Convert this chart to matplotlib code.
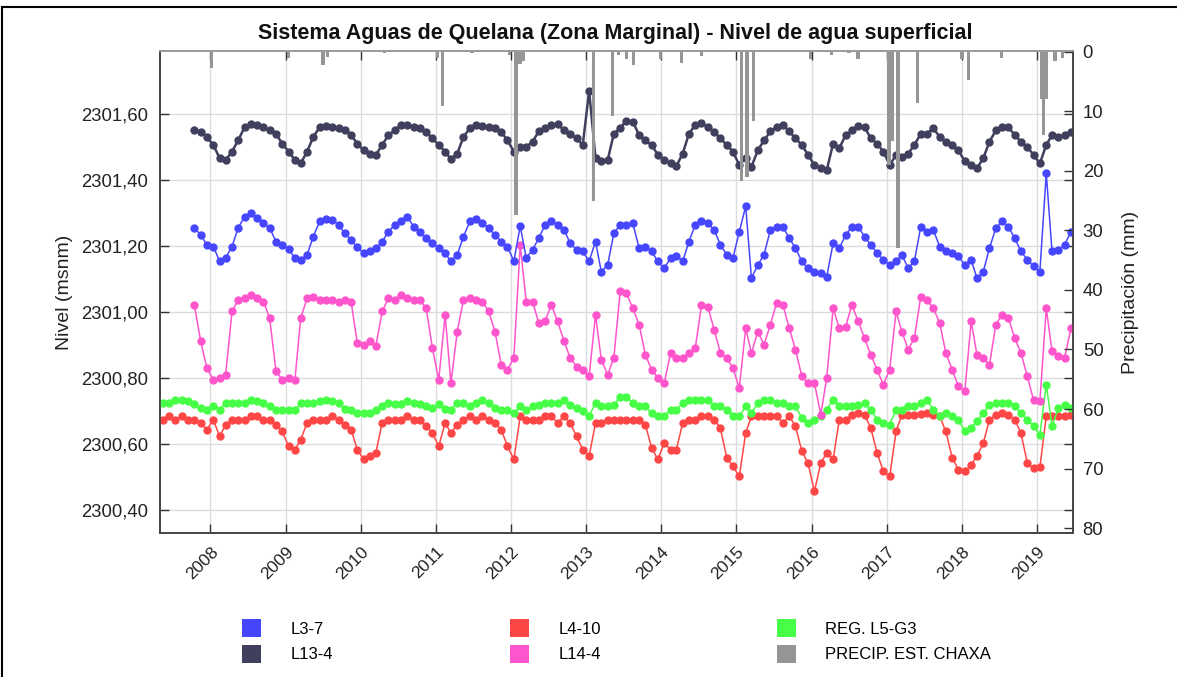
import matplotlib
matplotlib.use("Agg")
import matplotlib.pyplot as plt
import matplotlib.dates as mdates
from matplotlib.patches import Patch, Rectangle
from matplotlib.ticker import FuncFormatter
import pandas as pd

plt.rcParams['font.family'] = ['Liberation Sans', 'DejaVu Sans']

# monthly levels (msnm)
l13_4_start = '2007-10-01'
l13_4 = [
    2301.550, 2301.545, 2301.530,
    2301.506, 2301.466, 2301.460, 2301.486, 2301.520, 2301.560, 2301.570, 2301.567, 2301.560, 2301.550, 2301.540, 2301.510,
    2301.486, 2301.460, 2301.450, 2301.486, 2301.530, 2301.560, 2301.564, 2301.560, 2301.557, 2301.550, 2301.536, 2301.510,
    2301.490, 2301.480, 2301.476, 2301.506, 2301.536, 2301.550, 2301.567, 2301.567, 2301.560, 2301.557, 2301.545, 2301.526,
    2301.506, 2301.486, 2301.463, 2301.480, 2301.530, 2301.557, 2301.567, 2301.565, 2301.560, 2301.557, 2301.545, 2301.520,
    2301.486, 2301.500, 2301.500, 2301.516, 2301.547, 2301.557, 2301.567, 2301.570, 2301.550, 2301.540, 2301.526, 2301.506,
    2301.670, 2301.466, 2301.456, 2301.460, 2301.540, 2301.557, 2301.580, 2301.577, 2301.536, 2301.520, 2301.506, 2301.476,
    2301.460, 2301.450, 2301.442, 2301.480, 2301.540, 2301.567, 2301.572, 2301.560, 2301.545, 2301.526, 2301.506, 2301.486,
    2301.445, 2301.466, 2301.440, 2301.490, 2301.520, 2301.547, 2301.560, 2301.567, 2301.547, 2301.526, 2301.506, 2301.476,
    2301.445, 2301.435, 2301.430, 2301.510, 2301.496, 2301.536, 2301.550, 2301.565, 2301.560, 2301.526, 2301.510, 2301.486,
    2301.445, 2301.476, 2301.470, 2301.480, 2301.506, 2301.540, 2301.540, 2301.557, 2301.530, 2301.516, 2301.506, 2301.490,
    2301.456, 2301.445, 2301.435, 2301.466, 2301.516, 2301.550, 2301.560, 2301.560, 2301.536, 2301.516, 2301.500, 2301.476,
    2301.450, 2301.506, 2301.536, 2301.530, 2301.536, 2301.545,
]

l3_7_start = '2007-10-01'
l3_7 = [
    2301.254, 2301.233, 2301.203,
    2301.198, 2301.153, 2301.163, 2301.198, 2301.254, 2301.289, 2301.300, 2301.284, 2301.270, 2301.254, 2301.213, 2301.203,
    2301.190, 2301.163, 2301.158, 2301.173, 2301.228, 2301.274, 2301.282, 2301.279, 2301.264, 2301.238, 2301.218, 2301.195,
    2301.178, 2301.183, 2301.193, 2301.213, 2301.243, 2301.264, 2301.274, 2301.289, 2301.258, 2301.243, 2301.223, 2301.208,
    2301.193, 2301.178, 2301.153, 2301.173, 2301.228, 2301.274, 2301.282, 2301.269, 2301.254, 2301.233, 2301.213, 2301.198,
    2301.153, 2301.260, 2301.163, 2301.188, 2301.223, 2301.264, 2301.274, 2301.264, 2301.248, 2301.208, 2301.188, 2301.183,
    2301.153, 2301.213, 2301.122, 2301.142, 2301.238, 2301.264, 2301.264, 2301.269, 2301.193, 2301.198, 2301.183, 2301.153,
    2301.132, 2301.163, 2301.170, 2301.153, 2301.213, 2301.264, 2301.274, 2301.269, 2301.248, 2301.203, 2301.173, 2301.163,
    2301.243, 2301.320, 2301.102, 2301.142, 2301.173, 2301.248, 2301.258, 2301.258, 2301.223, 2301.193, 2301.153, 2301.132,
    2301.122, 2301.117, 2301.107, 2301.208, 2301.193, 2301.233, 2301.258, 2301.258, 2301.228, 2301.203, 2301.178, 2301.158,
    2301.142, 2301.153, 2301.173, 2301.132, 2301.153, 2301.258, 2301.243, 2301.248, 2301.198, 2301.183, 2301.178, 2301.168,
    2301.142, 2301.158, 2301.102, 2301.122, 2301.193, 2301.254, 2301.274, 2301.258, 2301.223, 2301.183, 2301.158, 2301.138,
    2301.122, 2301.420, 2301.183, 2301.188, 2301.203, 2301.243,
]

l14_4_start = '2007-10-01'
l14_4 = [
    2301.021, 2300.910, 2300.829,
    2300.794, 2300.800, 2300.809, 2301.001, 2301.036, 2301.041, 2301.052, 2301.041, 2301.031, 2300.981, 2300.819, 2300.794,
    2300.800, 2300.794, 2300.981, 2301.041, 2301.046, 2301.036, 2301.036, 2301.036, 2301.031, 2301.036, 2301.031, 2300.905,
    2300.900, 2300.910, 2300.895, 2301.001, 2301.041, 2301.036, 2301.052, 2301.041, 2301.036, 2301.036, 2301.011, 2300.890,
    2300.794, 2300.991, 2300.784, 2300.940, 2301.036, 2301.041, 2301.036, 2301.031, 2301.001, 2300.940, 2300.839, 2300.824,
    2300.860, 2301.203, 2301.031, 2301.031, 2300.966, 2300.971, 2301.021, 2300.971, 2300.910, 2300.860, 2300.834, 2300.824,
    2300.804, 2300.991, 2300.855, 2300.809, 2300.860, 2301.062, 2301.057, 2301.011, 2300.961, 2300.870, 2300.824, 2300.800,
    2300.784, 2300.875, 2300.860, 2300.860, 2300.875, 2300.890, 2301.021, 2301.016, 2300.945, 2300.875, 2300.860, 2300.829,
    2300.769, 2300.950, 2300.875, 2300.940, 2300.900, 2300.961, 2301.026, 2301.021, 2300.950, 2300.885, 2300.804, 2300.784,
    2300.784, 2300.688, 2300.800, 2301.011, 2300.950, 2300.955, 2301.021, 2300.971, 2300.920, 2300.870, 2300.824, 2300.779,
    2300.824, 2301.001, 2300.940, 2300.885, 2300.920, 2301.046, 2301.036, 2301.011, 2300.966, 2300.875, 2300.824, 2300.774,
    2300.759, 2300.971, 2300.870, 2300.860, 2300.839, 2300.961, 2300.991, 2300.981, 2300.920, 2300.875, 2300.804, 2300.733,
    2300.728, 2301.011, 2300.880, 2300.865, 2300.860, 2300.950,
]

reg_l5_g3_start = '2007-05-01'
reg_l5_g3 = [
    2300.723, 2300.723, 2300.733, 2300.733, 2300.730, 2300.720, 2300.708, 2300.701,
    2300.713, 2300.703, 2300.723, 2300.723, 2300.723, 2300.723, 2300.733, 2300.730, 2300.723, 2300.713, 2300.703, 2300.703,
    2300.703, 2300.703, 2300.723, 2300.723, 2300.723, 2300.728, 2300.733, 2300.730, 2300.723, 2300.705, 2300.703, 2300.693,
    2300.693, 2300.693, 2300.703, 2300.713, 2300.723, 2300.720, 2300.720, 2300.730, 2300.723, 2300.720, 2300.713, 2300.708,
    2300.720, 2300.705, 2300.703, 2300.723, 2300.723, 2300.713, 2300.723, 2300.733, 2300.723, 2300.708, 2300.703, 2300.703,
    2300.693, 2300.713, 2300.703, 2300.713, 2300.718, 2300.723, 2300.723, 2300.723, 2300.733, 2300.718, 2300.708, 2300.698,
    2300.685, 2300.723, 2300.713, 2300.713, 2300.718, 2300.740, 2300.743, 2300.723, 2300.713, 2300.713, 2300.693, 2300.683,
    2300.683, 2300.703, 2300.703, 2300.723, 2300.733, 2300.733, 2300.733, 2300.733, 2300.713, 2300.713, 2300.703, 2300.683,
    2300.683, 2300.713, 2300.693, 2300.723, 2300.733, 2300.733, 2300.723, 2300.723, 2300.713, 2300.713, 2300.678, 2300.663,
    2300.673, 2300.683, 2300.703, 2300.733, 2300.713, 2300.713, 2300.713, 2300.718, 2300.723, 2300.703, 2300.673, 2300.663,
    2300.658, 2300.703, 2300.703, 2300.713, 2300.713, 2300.723, 2300.733, 2300.703, 2300.683, 2300.693, 2300.683, 2300.673,
    2300.637, 2300.647, 2300.668, 2300.693, 2300.718, 2300.723, 2300.723, 2300.723, 2300.713, 2300.693, 2300.673, 2300.653,
    2300.627, 2300.779, 2300.653, 2300.708, 2300.718, 2300.708,
]

l4_10_start = '2007-05-01'
l4_10 = [
    2300.673, 2300.685, 2300.673, 2300.685, 2300.673, 2300.673, 2300.663, 2300.642,
    2300.673, 2300.622, 2300.658, 2300.673, 2300.673, 2300.673, 2300.683, 2300.683, 2300.673, 2300.673, 2300.658, 2300.637,
    2300.592, 2300.582, 2300.612, 2300.663, 2300.673, 2300.673, 2300.673, 2300.683, 2300.673, 2300.658, 2300.642, 2300.582,
    2300.552, 2300.562, 2300.572, 2300.663, 2300.673, 2300.673, 2300.673, 2300.683, 2300.673, 2300.673, 2300.653, 2300.632,
    2300.592, 2300.663, 2300.632, 2300.658, 2300.673, 2300.683, 2300.673, 2300.683, 2300.673, 2300.663, 2300.642, 2300.592,
    2300.552, 2300.683, 2300.673, 2300.673, 2300.673, 2300.683, 2300.683, 2300.663, 2300.683, 2300.663, 2300.622, 2300.582,
    2300.562, 2300.663, 2300.663, 2300.673, 2300.673, 2300.673, 2300.673, 2300.673, 2300.673, 2300.658, 2300.587, 2300.552,
    2300.602, 2300.582, 2300.582, 2300.663, 2300.673, 2300.673, 2300.683, 2300.683, 2300.673, 2300.647, 2300.557, 2300.531,
    2300.501, 2300.632, 2300.683, 2300.683, 2300.683, 2300.683, 2300.683, 2300.663, 2300.683, 2300.653, 2300.577, 2300.541,
    2300.455, 2300.541, 2300.572, 2300.552, 2300.673, 2300.673, 2300.688, 2300.693, 2300.688, 2300.647, 2300.572, 2300.516,
    2300.501, 2300.637, 2300.688, 2300.688, 2300.688, 2300.690, 2300.693, 2300.688, 2300.683, 2300.637, 2300.557, 2300.521,
    2300.516, 2300.536, 2300.562, 2300.602, 2300.673, 2300.686, 2300.693, 2300.688, 2300.673, 2300.632, 2300.541, 2300.526,
    2300.528, 2300.683, 2300.683, 2300.683, 2300.683, 2300.686,
]

# precipitation events, Chaxa station (mm)
precip_dates = [
    '2008-01-05', '2009-01-15', '2009-07-01', '2009-07-22', '2010-04-27',
    '2011-01-08', '2011-02-03', '2011-06-25', '2011-12-24', '2012-01-26',
    '2012-02-14', '2012-03-03', '2013-02-06', '2013-05-08', '2013-06-06',
    '2013-07-16', '2013-08-18', '2013-12-28', '2014-04-08', '2014-07-16',
    '2015-01-26', '2015-02-21', '2015-03-25', '2015-12-28', '2016-04-08',
    '2016-07-01', '2016-08-14', '2017-01-12', '2017-01-30', '2017-02-24',
    '2017-05-30', '2018-01-01', '2018-02-03', '2018-07-13', '2019-01-26',
    '2019-02-03', '2019-02-17', '2019-03-29', '2019-05-05',
]
precip_mm = [
    2.7, 1.0, 2.3, 0.9, 0.3,
    1.0, 9.2, 0.2, 0.6, 27.5,
    2.0, 1.5, 25.0, 10.8, 0.5,
    1.3, 2.2, 1.3, 1.9, 0.8,
    21.7, 21.0, 11.7, 1.3, 0.5,
    0.3, 1.3, 19.0, 15.0, 33.0,
    8.6, 1.3, 4.7, 1.1, 8.0,
    14.0, 8.0, 1.5, 1.0,
]

level_ticks = [2300.4, 2300.6, 2300.8, 2301.0, 2301.2, 2301.4, 2301.6]
precip_ticks = [0, 10, 20, 30, 40, 50, 60, 70, 80]


def monthly(start, vals):
    return pd.date_range(start, periods=len(vals), freq='MS') + pd.Timedelta(days=14)


series = [
    ('L4-10', l4_10_start, l4_10, '#ff4646'),
    ('REG. L5-G3', reg_l5_g3_start, reg_l5_g3, '#46ff46'),
    ('L14-4', l14_4_start, l14_4, '#ff55cc'),
    ('L3-7', l3_7_start, l3_7, '#4646ff'),
    ('L13-4', l13_4_start, l13_4, '#40405e'),
]
precip_color = '#959595'

W, H = 1177, 677
fig = plt.figure(figsize=(W / 100, H / 100), dpi=100)
ax = fig.add_axes([160 / W, 1 - 533 / H, (1073 - 160) / W, (533 - 51) / H])
ax2 = ax.twinx()

for name, start, vals, col in series:
    lw = 1.8 if name == 'L13-4' else 1.1
    ax.plot(monthly(start, vals), vals, color=col, lw=lw, marker='o', ms=5,
            mec=col, mfc=col, zorder=3)

ax2.bar(pd.to_datetime(precip_dates), precip_mm, width=16, color=precip_color,
        align='center', zorder=2)

ax.set_xlim(pd.Timestamp('2007-05-01'), pd.Timestamp('2019-06-25'))
ax.set_ylim(2300.329, 2301.791)
ax2.set_ylim(80.8, -0.1)

ax.set_yticks(level_ticks)
ax.yaxis.set_major_formatter(FuncFormatter(lambda v, p: f"{v:.2f}".replace('.', ',')))
ax2.set_yticks(precip_ticks)

ax.xaxis.set_major_locator(mdates.YearLocator())
ax.xaxis.set_major_formatter(mdates.DateFormatter('%Y'))
for lab in ax.get_xticklabels():
    lab.set_rotation(45)
    lab.set_ha('right')
    lab.set_rotation_mode('anchor')

ax.grid(True, color='#dcdcdc', lw=1)
ax.set_axisbelow(True)

ax.tick_params(axis='both', direction='in', length=6.5, width=1, colors='#333333',
               labelcolor='#222222', labelsize=13.3, top=True, right=True, labelright=False)
ax.tick_params(axis='y', pad=8.5)
ax.tick_params(axis='x', labelsize=12.5, pad=8)
ax2.tick_params(axis='y', direction='in', length=6.5, width=1, colors='#333333',
                labelcolor='#222222', labelsize=13.3, pad=7)

for a in (ax, ax2):
    for s in a.spines.values():
        s.set_color('#444444')
        s.set_linewidth(1.2)
    a.spines['top'].set_color('#9a9a9a')

ax.set_ylabel('Nivel (msnm)', fontsize=14, color='#222222', labelpad=6)
ax2.set_ylabel('Precipitación (mm)', fontsize=14, color='#222222', labelpad=13)

fig.text(615.5 / W, 1 - 33 / H,
         'Sistema Aguas de Quelana (Zona Marginal) - Nivel de agua superficial',
         ha='center', va='center', fontsize=15.5, fontweight='bold', color='#111111')

# legend, three columns of two entries
colors = {name: col for name, _, _, col in series}
columns = [
    (242, ['L3-7', 'L13-4']),
    (510, ['L4-10', 'L14-4']),
    (777, ['REG. L5-G3', 'PRECIP. EST. CHAXA']),
]
for x0, names in columns:
    handles = [Patch(facecolor=colors.get(n, precip_color), edgecolor='none', label=n)
               for n in names]
    fig.legend(handles=handles, loc='upper left', bbox_to_anchor=(x0 / W, 1 - 619 / H),
               frameon=False, fontsize=12, borderpad=0, borderaxespad=0,
               handlelength=1.15, handleheight=1.3, handletextpad=1.75,
               labelspacing=0.45)

# outer frame of the figure
fig.add_artist(Rectangle((2 / W, -0.1), 1.2, 1.1 - 7 / H, transform=fig.transFigure,
                         fill=False, ec='black', lw=1.5, clip_on=False))

fig.savefig('out.png', dpi=100)
